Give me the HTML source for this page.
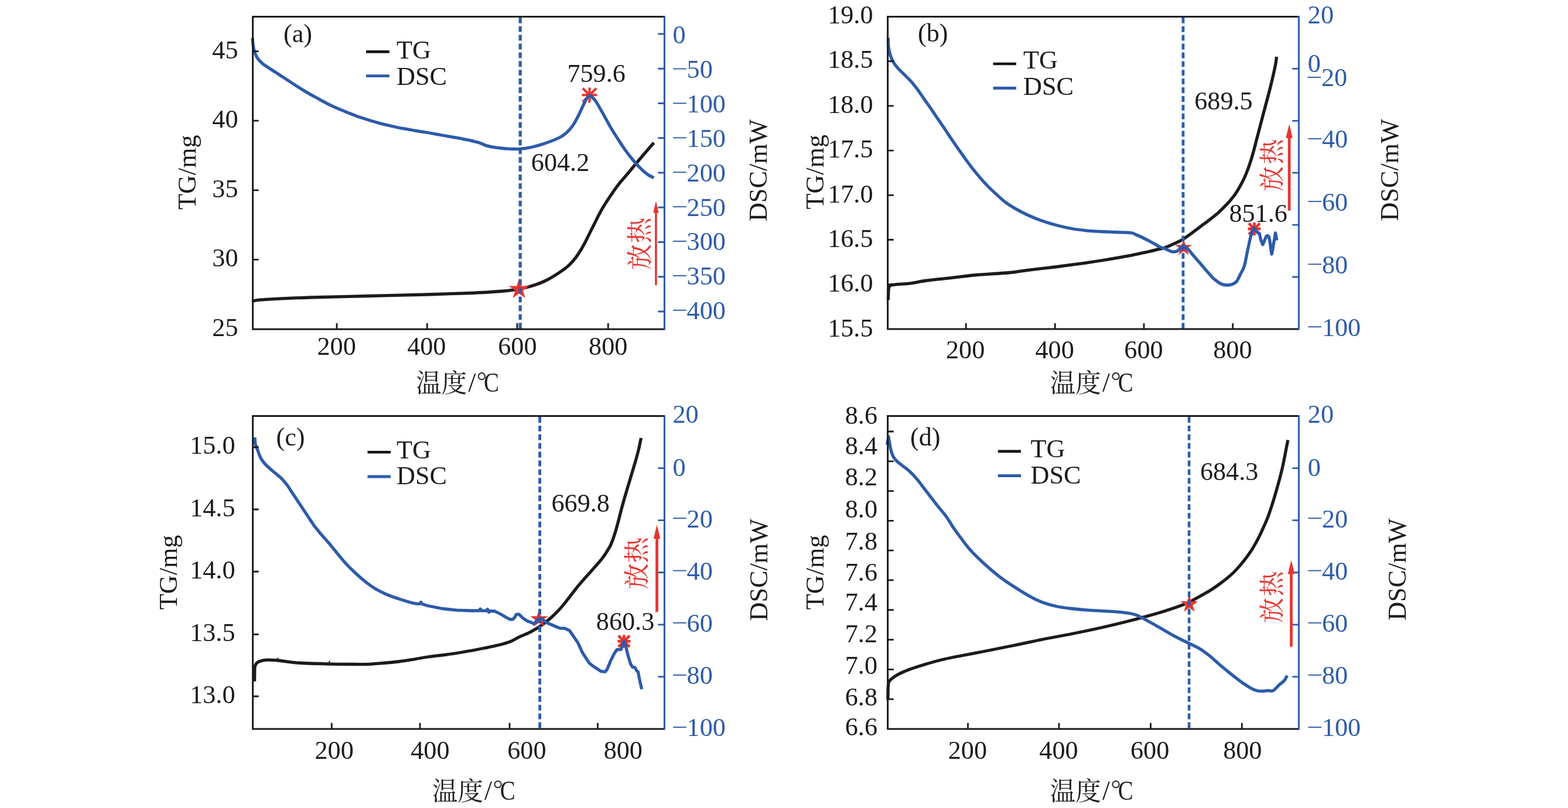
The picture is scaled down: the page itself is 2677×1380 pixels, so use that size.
<!DOCTYPE html>
<html lang="zh"><head><meta charset="utf-8"><title>TG-DSC curves</title>
<style>html,body{margin:0;padding:0;background:#fff}body{width:2677px;height:1380px;overflow:hidden}svg{display:block}text{font-family:"Liberation Serif","Noto Serif CJK SC",serif;white-space:pre}</style></head><body>
<svg xmlns="http://www.w3.org/2000/svg" width="2677" height="1380" viewBox="0 0 2677 1380" style="will-change:transform">
<rect width="2677" height="1380" fill="#fff"/>
<g id="panel-a">
<path d="M430.5,515.5C431.25,515.13 430.92,514 435,513.3C439.08,512.6 439.17,512.18 455,511.3C470.83,510.42 500.83,508.97 530,508C559.17,507.03 596.67,506.33 630,505.5C663.33,504.67 700.83,503.83 730,503C759.17,502.17 784.17,501.42 805,500.5C825.83,499.58 842.5,498.48 855,497.5C867.5,496.52 872.5,495.77 880,494.6C887.5,493.43 894.15,491.93 900,490.5C905.85,489.07 910.08,487.75 915.1,486C920.12,484.25 925.08,482.38 930.1,480C935.12,477.62 940.18,474.72 945.2,471.7C950.22,468.68 955.68,465.17 960.2,461.9C964.72,458.63 968.53,455.73 972.3,452.1C976.07,448.47 979.53,444.37 982.8,440.1C986.07,435.83 989.13,431.02 991.9,426.5C994.67,421.98 996.9,417.77 999.4,413C1001.9,408.23 1004.38,402.93 1006.9,397.9C1009.42,392.87 1011.98,387.82 1014.5,382.8C1017.02,377.78 1019.5,372.57 1022,367.8C1024.5,363.03 1027,358.47 1029.5,354.2C1032,349.93 1034.48,346.08 1037,342.2C1039.52,338.32 1042.08,334.55 1044.6,330.9C1047.12,327.25 1049.6,323.7 1052.1,320.3C1054.6,316.9 1056.83,313.88 1059.6,310.5C1062.37,307.12 1065.3,304 1068.7,300C1072.1,296 1075.12,292.33 1080,286.5C1084.88,280.67 1091.95,272.12 1098,265C1104.05,257.88 1113.25,247.33 1116.3,243.8" fill="none" stroke="#1c1a1b" stroke-width="5.3" stroke-linejoin="round" stroke-linecap="butt"/>
<path d="M886.2,476L890.29,488.58L903.51,488.58L892.81,496.35L896.9,508.92L886.2,501.15L875.5,508.92L879.59,496.35L868.89,488.58L882.11,488.58Z" fill="#e8332e"/>
<path d="M1006.5,149.4V175.2M993.6,162.3H1019.4M994.9,150.7L1018.1,173.9M994.9,173.9L1018.1,150.7" fill="none" stroke="#e8332e" stroke-width="4.1"/>
<path d="M431,65C431.25,67.4 431.8,75.2 432.5,79.4C433.2,83.6 433.97,86.82 435.2,90.2C436.43,93.58 437.77,96.65 439.9,99.7C442.03,102.75 444.83,105.78 448,108.5C451.17,111.22 454.83,113.28 458.9,116C462.97,118.72 467.88,121.87 472.4,124.8C476.92,127.73 481.48,130.67 486,133.6C490.52,136.53 494.98,139.47 499.5,142.4C504.02,145.33 508.57,148.37 513.1,151.2C517.63,154.03 522.18,156.8 526.7,159.4C531.22,162 535.68,164.32 540.2,166.8C544.72,169.28 549.28,171.92 553.8,174.3C558.32,176.68 562.78,178.97 567.3,181.1C571.82,183.23 576.38,185.18 580.9,187.1C585.42,189.02 589.88,190.78 594.4,192.6C598.92,194.42 603.48,196.35 608,198C612.52,199.65 616.98,201.03 621.5,202.5C626.02,203.97 630.58,205.45 635.1,206.8C639.62,208.15 644.08,209.42 648.6,210.6C653.12,211.78 657.68,212.83 662.2,213.9C666.72,214.97 671.18,216.03 675.7,217C680.22,217.97 684.77,218.87 689.3,219.7C693.83,220.53 698.38,221.22 702.9,222C707.42,222.78 711.88,223.65 716.4,224.4C720.92,225.15 725.23,225.7 730,226.5C734.77,227.3 740.83,228.45 745,229.2C749.17,229.95 749.17,229.98 755,231C760.83,232.02 771.67,233.75 780,235.3C788.33,236.85 798.75,238.92 805,240.3C811.25,241.68 813.33,242.22 817.5,243.6C821.67,244.98 825.83,247.3 830,248.6C834.17,249.9 838.33,250.67 842.5,251.4C846.67,252.13 850.83,252.55 855,253C859.17,253.45 863.33,253.85 867.5,254.1C871.67,254.35 876.67,254.47 880,254.5C883.33,254.53 883.33,254.72 887.5,254.3C891.67,253.88 897.92,253.55 905,252C912.08,250.45 921.67,247.83 930,245C938.33,242.17 948.75,238.12 955,235C961.25,231.88 963.75,229.63 967.5,226.3C971.25,222.97 974.17,219.8 977.5,215C980.83,210.2 984.17,204 987.5,197.5C990.83,191 994.92,181.17 997.5,176C1000.08,170.83 1001.5,168.6 1003,166.5C1004.5,164.4 1005.33,163.62 1006.5,163.4C1007.67,163.18 1008.17,163.52 1010,165.2C1011.83,166.88 1014.17,168.53 1017.5,173.5C1020.83,178.47 1025.83,187.67 1030,195C1034.17,202.33 1038.33,210.42 1042.5,217.5C1046.67,224.58 1050.83,231.03 1055,237.5C1059.17,243.97 1063.33,250.47 1067.5,256.3C1071.67,262.13 1075.83,267.5 1080,272.5C1084.17,277.5 1088.33,282.13 1092.5,286.3C1096.67,290.47 1101.03,294.58 1105,297.5C1108.97,300.42 1114.42,302.75 1116.3,303.8" fill="none" stroke="#2d5baa" stroke-width="5.3" stroke-linejoin="round" stroke-linecap="butt"/>
<path d="M888.2,29.8V562.2" stroke="#2d5baa" stroke-width="5.2" stroke-dasharray="9.9 5" fill="none"/>
<path d="M431.6,26.9V562.2H1134.4" stroke="#1c1a1b" stroke-width="3" fill="none" stroke-linejoin="miter"/>
<path d="M431.6,28.4H1134.4" stroke="#1c1a1b" stroke-width="3" fill="none"/>
<path d="M1134.4,26.9V563.7" stroke="#2d5baa" stroke-width="3" fill="none"/>
<path d="M431.6,87.6H441.7M431.6,206.2H441.7M431.6,324.8H441.7M431.6,443.4H441.7M575,562.2V552.1M729.25,562.2V552.1M883,562.2V552.1M1038.25,562.2V552.1" stroke="#1c1a1b" stroke-width="2.8" fill="none"/>
<path d="M1134.4,58H1123.3M1134.4,117.25H1123.3M1134.4,176.5H1123.3M1134.4,235.75H1123.3M1134.4,295H1123.3M1134.4,354.25H1123.3M1134.4,413.5H1123.3M1134.4,472.75H1123.3M1134.4,532H1123.3" stroke="#2d5baa" stroke-width="2.8" fill="none"/>
<text x="574.6" y="606" text-anchor="middle" fill="#1c1a1b" font-size="44.2">200</text>
<text x="728.3" y="606" text-anchor="middle" fill="#1c1a1b" font-size="44.2">400</text>
<text x="883.4" y="606" text-anchor="middle" fill="#1c1a1b" font-size="44.2">600</text>
<text x="1038.2" y="606" text-anchor="middle" fill="#1c1a1b" font-size="44.2">800</text>
<text x="406.5" y="99.6" text-anchor="end" fill="#1c1a1b" font-size="44.2">45</text>
<text x="406.5" y="218.4" text-anchor="end" fill="#1c1a1b" font-size="44.2">40</text>
<text x="406.5" y="337.2" text-anchor="end" fill="#1c1a1b" font-size="44.2">35</text>
<text x="406.5" y="455.4" text-anchor="end" fill="#1c1a1b" font-size="44.2">30</text>
<text x="406.5" y="573.8" text-anchor="end" fill="#1c1a1b" font-size="44.2">25</text>
<text x="1148.5" y="74" text-anchor="start" fill="#2d5baa" font-size="44.2">0</text>
<path d="M1149.1,117.5H1171.8" stroke="#2d5baa" stroke-width="1.9" fill="none"/>
<text x="1172.6" y="132.9" text-anchor="start" fill="#2d5baa" font-size="44.2">50</text>
<path d="M1149.1,176.4H1171.8" stroke="#2d5baa" stroke-width="1.9" fill="none"/>
<text x="1172.6" y="191.8" text-anchor="start" fill="#2d5baa" font-size="44.2">100</text>
<path d="M1149.1,235.3H1171.8" stroke="#2d5baa" stroke-width="1.9" fill="none"/>
<text x="1172.6" y="250.7" text-anchor="start" fill="#2d5baa" font-size="44.2">150</text>
<path d="M1149.1,294.2H1171.8" stroke="#2d5baa" stroke-width="1.9" fill="none"/>
<text x="1172.6" y="309.6" text-anchor="start" fill="#2d5baa" font-size="44.2">200</text>
<path d="M1149.1,353.1H1171.8" stroke="#2d5baa" stroke-width="1.9" fill="none"/>
<text x="1172.6" y="368.5" text-anchor="start" fill="#2d5baa" font-size="44.2">250</text>
<path d="M1149.1,412H1171.8" stroke="#2d5baa" stroke-width="1.9" fill="none"/>
<text x="1172.6" y="427.4" text-anchor="start" fill="#2d5baa" font-size="44.2">300</text>
<path d="M1149.1,470.9H1171.8" stroke="#2d5baa" stroke-width="1.9" fill="none"/>
<text x="1172.6" y="486.3" text-anchor="start" fill="#2d5baa" font-size="44.2">350</text>
<path d="M1149.1,529.8H1171.8" stroke="#2d5baa" stroke-width="1.9" fill="none"/>
<text x="1172.6" y="545.2" text-anchor="start" fill="#2d5baa" font-size="44.2">400</text>
<path d="M625,88.4H664.8" stroke="#141414" stroke-width="4.6" fill="none"/>
<path d="M625,129.6H664.8" stroke="#2d5baa" stroke-width="4.8" fill="none"/>
<text x="677" y="100" text-anchor="start" fill="#1c1a1b" font-size="44.2">TG</text>
<text x="677" y="145" text-anchor="start" fill="#1c1a1b" font-size="44.2">DSC</text>
<text x="484" y="71.5" text-anchor="start" fill="#1c1a1b" font-size="44.2">(a)</text>
<text x="968.4" y="140" text-anchor="start" fill="#1c1a1b" font-size="44.2">759.6</text>
<text x="906.8" y="292" text-anchor="start" fill="#1c1a1b" font-size="44.2">604.2</text>
<path d="M1119.9,487.2V362.4" stroke="#e8332e" stroke-width="3.5" fill="none"/>
<path d="M1119.9,343.4L1115.2,363.4L1124.6,363.4Z" fill="#e8332e"/>
<text transform="translate(1108.13,461.01) rotate(-90)" x="0 45.5" y="0" fill="#e8332e" font-size="44.4">放热</text>
<text transform="translate(333.8,294.2) rotate(-90)" text-anchor="middle" fill="#1c1a1b" font-size="44.2">TG/mg</text>
<text transform="translate(1309.4,290.9) rotate(-90)" text-anchor="middle" fill="#1c1a1b" font-size="44.2">DSC/mW</text>
<text x="710 753.5" y="670.03" fill="#1c1a1b" font-size="43.8">温度</text>
<text x="799.4" y="669" text-anchor="start" fill="#1c1a1b" font-size="46.5">/</text>
<circle cx="822.4" cy="642.7" r="5.65" fill="none" stroke="#1c1a1b" stroke-width="1.9"/>
<text transform="translate(826.1,668.85) scale(0.875,1.035)" x="0" y="0" fill="#1c1a1b" font-size="44.5">C</text>
</g>
<g id="panel-b">
<path d="M1516.3,512.5L1516.8,497L1517.5,491C1518,490.38 1518.42,488.17 1520.5,487.3C1522.58,486.43 1524.25,486.38 1530,485.8C1535.75,485.22 1546.67,484.85 1555,483.8C1563.33,482.75 1567.5,481.17 1580,479.5C1592.5,477.83 1615.42,475.47 1630,473.8C1644.58,472.13 1655,470.63 1667.5,469.5C1680,468.37 1694.58,467.75 1705,467C1715.42,466.25 1721.67,465.95 1730,465C1738.33,464.05 1742.5,462.88 1755,461.3C1767.5,459.72 1788.33,457.58 1805,455.5C1821.67,453.42 1842.5,450.55 1855,448.8C1867.5,447.05 1867.5,447.08 1880,445C1892.5,442.92 1916.67,438.8 1930,436.3C1943.33,433.8 1952.5,431.65 1960,430C1967.5,428.35 1970,427.67 1975,426.4C1980,425.13 1985,424.13 1990,422.4C1995,420.67 2000,418.33 2005,416C2010,413.67 2015,411.43 2020,408.4C2025,405.37 2030,401.43 2035,397.8C2040,394.17 2045,390.35 2050,386.6C2055,382.85 2060,379.2 2065,375.3C2070,371.4 2075,367.68 2080,363.2C2085,358.72 2090.92,352.72 2095,348.4C2099.08,344.08 2101.9,340.53 2104.5,337.3C2107.1,334.07 2108.33,332.52 2110.6,329C2112.87,325.48 2115.6,320.83 2118.1,316.2C2120.6,311.57 2123.1,306.97 2125.6,301.2C2128.1,295.43 2130.83,288.13 2133.1,281.6C2135.37,275.07 2137.12,269.35 2139.2,262C2141.28,254.65 2142.47,249.5 2145.6,237.5C2148.73,225.5 2154.17,204.58 2158,190C2161.83,175.42 2165.4,162.92 2168.6,150C2171.8,137.08 2175.38,121.33 2177.2,112.5C2179.02,103.67 2179.12,99.58 2179.5,97" fill="none" stroke="#1c1a1b" stroke-width="5.3" stroke-linejoin="round" stroke-linecap="butt"/>
<path d="M2020.7,408L2024.11,418.5L2035.16,418.5L2026.22,424.99L2029.63,435.5L2020.7,429.01L2011.77,435.5L2015.18,424.99L2006.24,418.5L2017.29,418.5Z" fill="#e8332e"/>
<path d="M2141.4,379.9V401.9M2130.4,390.9H2152.4M2131.9,381.4L2150.9,400.4M2131.9,400.4L2150.9,381.4" fill="none" stroke="#e8332e" stroke-width="4.6"/>
<path d="M1516.4,64.5C1516.5,67.1 1516.38,75.08 1517,80.1C1517.62,85.12 1518.68,90.18 1520.1,94.6C1521.52,99.02 1523.2,102.78 1525.5,106.6C1527.8,110.42 1530.68,113.88 1533.9,117.5C1537.12,121.12 1541.18,124.68 1544.8,128.3C1548.42,131.92 1552.2,135.38 1555.6,139.2C1559,143.02 1562.18,147.18 1565.2,151.2C1568.22,155.22 1570.88,159.28 1573.7,163.3C1576.52,167.32 1579.3,171.3 1582.1,175.3C1584.9,179.3 1587.72,183.25 1590.5,187.3C1593.28,191.35 1595.93,195.4 1598.8,199.6C1601.67,203.8 1604.92,208.42 1607.7,212.5C1610.48,216.58 1612.88,220.17 1615.5,224.1C1618.12,228.03 1620.68,232.08 1623.4,236.1C1626.12,240.12 1629,244.18 1631.8,248.2C1634.6,252.22 1637.38,256.18 1640.2,260.2C1643.02,264.22 1645.78,268.28 1648.7,272.3C1651.62,276.32 1654.6,280.28 1657.7,284.3C1660.8,288.32 1663.98,292.38 1667.3,296.4C1670.62,300.42 1673.98,304.38 1677.6,308.4C1681.22,312.42 1684.98,316.48 1689,320.5C1693.02,324.52 1697.28,328.48 1701.7,332.5C1706.12,336.52 1710.48,340.78 1715.5,344.6C1720.52,348.42 1725.22,351.58 1731.8,355.4C1738.38,359.22 1746.97,363.82 1755,367.5C1763.03,371.18 1771.67,374.58 1780,377.5C1788.33,380.42 1796.67,382.83 1805,385C1813.33,387.17 1821.67,389.03 1830,390.5C1838.33,391.97 1846.67,392.97 1855,393.8C1863.33,394.63 1871.67,395.05 1880,395.5C1888.33,395.95 1897.5,396.22 1905,396.5C1912.5,396.78 1920.33,396.95 1925,397.2C1929.67,397.45 1930.5,397.37 1933,398C1935.5,398.63 1937.17,399.75 1940,401C1942.83,402.25 1945.42,403.25 1950,405.5C1954.58,407.75 1962.5,411.82 1967.5,414.5C1972.5,417.18 1976.42,419.88 1980,421.6C1983.58,423.32 1985.98,423.58 1989,424.8C1992.02,426.02 1995.68,428.03 1998.1,428.9C2000.52,429.77 2001.7,429.93 2003.5,430C2005.3,430.07 2007.25,430.02 2008.9,429.3C2010.55,428.58 2012.05,426.82 2013.4,425.7C2014.75,424.58 2015.87,423.35 2017,422.6C2018.13,421.85 2018.98,421.2 2020.2,421.2C2021.42,421.2 2022.87,421.77 2024.3,422.6C2025.73,423.43 2027.15,424.55 2028.8,426.2C2030.45,427.85 2032.17,430.1 2034.2,432.5C2036.23,434.9 2038.73,437.97 2041,440.6C2043.27,443.23 2044.63,444.65 2047.8,448.3C2050.97,451.95 2055.88,457.83 2060,462.5C2064.12,467.17 2068.33,472.55 2072.5,476.3C2076.67,480.05 2081.25,483.22 2085,485C2088.75,486.78 2091.67,487 2095,487C2098.33,487 2102.28,486.08 2105,485C2107.72,483.92 2109.32,483 2111.3,480.5C2113.28,478 2114.73,474.35 2116.9,470C2119.07,465.65 2122.2,461.05 2124.3,454.4C2126.4,447.75 2127.75,438.18 2129.5,430.1C2131.25,422.02 2133.22,412.22 2134.8,405.9C2136.38,399.58 2137.95,394.92 2139,392.2C2140.05,389.48 2140.75,390.03 2141.1,389.6L2141.1,389.6L2144.3,394.3L2147.5,397.8L2150,398.3L2152.7,410L2155.9,417.8L2158,413L2160.1,407.5L2162.3,403L2164.5,402.5L2166.5,404.5L2168,412L2169.6,425L2171.2,434L2172.5,428L2173.8,419.5L2175.9,408L2177.5,397.8L2178.6,404L2179.8,410.5" fill="none" stroke="#2d5baa" stroke-width="5.3" stroke-linejoin="round" stroke-linecap="butt"/>
<path d="M2019.9,29.9V562" stroke="#2d5baa" stroke-width="4.8" stroke-dasharray="9.9 5" fill="none"/>
<path d="M1515.6,27V562H2217.4" stroke="#1c1a1b" stroke-width="3" fill="none" stroke-linejoin="miter"/>
<path d="M1515.6,28.5H2217.4" stroke="#1c1a1b" stroke-width="3" fill="none"/>
<path d="M2217.4,27V563.5" stroke="#2d5baa" stroke-width="3" fill="none"/>
<path d="M1515.6,104.7H1525.7M1515.6,180.9H1525.7M1515.6,257.1H1525.7M1515.6,333.3H1525.7M1515.6,409.5H1525.7M1515.6,485.7H1525.7M1649.25,562V551.9M1801.25,562V551.9M1953,562V551.9M2104.7,562V551.9" stroke="#1c1a1b" stroke-width="2.8" fill="none"/>
<path d="M2217.4,117.4H2206.3M2217.4,206.3H2206.3M2217.4,295.2H2206.3M2217.4,384.1H2206.3M2217.4,473H2206.3" stroke="#2d5baa" stroke-width="2.8" fill="none"/>
<text x="1648.1" y="612.3" text-anchor="middle" fill="#1c1a1b" font-size="44.2">200</text>
<text x="1800.6" y="612.3" text-anchor="middle" fill="#1c1a1b" font-size="44.2">400</text>
<text x="1952.5" y="612.3" text-anchor="middle" fill="#1c1a1b" font-size="44.2">600</text>
<text x="2104.4" y="612.3" text-anchor="middle" fill="#1c1a1b" font-size="44.2">800</text>
<text x="1490.5" y="40" text-anchor="end" fill="#1c1a1b" font-size="44.2">19.0</text>
<text x="1490.5" y="116.4" text-anchor="end" fill="#1c1a1b" font-size="44.2">18.5</text>
<text x="1490.5" y="192.8" text-anchor="end" fill="#1c1a1b" font-size="44.2">18.0</text>
<text x="1490.5" y="269.2" text-anchor="end" fill="#1c1a1b" font-size="44.2">17.5</text>
<text x="1490.5" y="345.6" text-anchor="end" fill="#1c1a1b" font-size="44.2">17.0</text>
<text x="1490.5" y="422" text-anchor="end" fill="#1c1a1b" font-size="44.2">16.5</text>
<text x="1490.5" y="498.4" text-anchor="end" fill="#1c1a1b" font-size="44.2">16.0</text>
<text x="1490.5" y="574.8" text-anchor="end" fill="#1c1a1b" font-size="44.2">15.5</text>
<text x="2232.8" y="40" text-anchor="start" fill="#2d5baa" font-size="44.2">20</text>
<text x="2232.8" y="122.6" text-anchor="start" fill="#2d5baa" font-size="44.2">0</text>
<path d="M2232.4,132H2255.1" stroke="#2d5baa" stroke-width="1.9" fill="none"/>
<text x="2255.9" y="147.4" text-anchor="start" fill="#2d5baa" font-size="44.2">20</text>
<path d="M2233.4,237H2256.1" stroke="#2d5baa" stroke-width="1.9" fill="none"/>
<text x="2256.9" y="252.4" text-anchor="start" fill="#2d5baa" font-size="44.2">40</text>
<path d="M2233.4,344.1H2256.1" stroke="#2d5baa" stroke-width="1.9" fill="none"/>
<text x="2256.9" y="359.5" text-anchor="start" fill="#2d5baa" font-size="44.2">60</text>
<path d="M2233.4,451.3H2256.1" stroke="#2d5baa" stroke-width="1.9" fill="none"/>
<text x="2256.9" y="466.7" text-anchor="start" fill="#2d5baa" font-size="44.2">80</text>
<path d="M2233.4,558.2H2256.1" stroke="#2d5baa" stroke-width="1.9" fill="none"/>
<text x="2256.9" y="573.6" text-anchor="start" fill="#2d5baa" font-size="44.2">100</text>
<path d="M1695.5,109H1735" stroke="#141414" stroke-width="4.6" fill="none"/>
<path d="M1695.5,150.5H1735" stroke="#2d5baa" stroke-width="4.8" fill="none"/>
<text x="1747" y="117.3" text-anchor="start" fill="#1c1a1b" font-size="44.2">TG</text>
<text x="1747" y="162" text-anchor="start" fill="#1c1a1b" font-size="44.2">DSC</text>
<text x="1567" y="71" text-anchor="start" fill="#1c1a1b" font-size="44.2">(b)</text>
<text x="2039.2" y="186.7" text-anchor="start" fill="#1c1a1b" font-size="44.2">689.5</text>
<text x="2098.4" y="378.6" text-anchor="start" fill="#1c1a1b" font-size="44.2">851.6</text>
<path d="M2201.1,359.8V234.8" stroke="#e8332e" stroke-width="4.7" fill="none"/>
<path d="M2201.1,211.8L2195.35,235.8L2206.85,235.8Z" fill="#e8332e"/>
<text transform="translate(2187.08,327.28) rotate(-90)" x="0 46.43" y="0" fill="#e8332e" font-size="43.5">放热</text>
<text transform="translate(1406,293.7) rotate(-90)" text-anchor="middle" fill="#1c1a1b" font-size="44.2">TG/mg</text>
<text transform="translate(2386.6,290.3) rotate(-90)" text-anchor="middle" fill="#1c1a1b" font-size="44.2">DSC/mW</text>
<text x="1792.6 1836.1" y="670.03" fill="#1c1a1b" font-size="43.8">温度</text>
<text x="1882" y="669" text-anchor="start" fill="#1c1a1b" font-size="46.5">/</text>
<circle cx="1905" cy="642.7" r="5.65" fill="none" stroke="#1c1a1b" stroke-width="1.9"/>
<text transform="translate(1908.7,668.85) scale(0.875,1.035)" x="0" y="0" fill="#1c1a1b" font-size="44.5">C</text>
</g>
<g id="panel-c">
<path d="M434.5,1163.8L434.8,1142L435.5,1137C435.92,1136.33 436.83,1134.2 438,1133C439.17,1131.8 439.67,1130.77 442.5,1129.8C445.33,1128.83 449.58,1127.5 455,1127.2C460.42,1126.9 466.67,1127.23 475,1128C483.33,1128.77 491.67,1130.83 505,1131.8C518.33,1132.77 538.33,1133.35 555,1133.8C571.67,1134.25 592.5,1134.42 605,1134.5C617.5,1134.58 621.67,1134.63 630,1134.3C638.33,1133.97 646.67,1133.22 655,1132.5C663.33,1131.78 671.67,1131.03 680,1130C688.33,1128.97 696.67,1127.63 705,1126.3C713.33,1124.97 717.5,1123.8 730,1122C742.5,1120.2 763.33,1118.12 780,1115.5C796.67,1112.88 817.5,1108.75 830,1106.3C842.5,1103.85 848,1102.6 855,1100.8C862,1099 866.75,1097.67 872,1095.5C877.25,1093.33 881.47,1090.18 886.5,1087.8C891.53,1085.42 897.58,1083.4 902.2,1081.2C906.82,1079 910.38,1076.92 914.2,1074.6C918.02,1072.28 921.68,1069.72 925.1,1067.3C928.52,1064.88 931.5,1062.7 934.7,1060.1C937.9,1057.5 941.08,1054.72 944.3,1051.7C947.52,1048.68 950.98,1045.22 954,1042C957.02,1038.78 959.6,1035.8 962.4,1032.4C965.2,1029 967.98,1025.22 970.8,1021.6C973.62,1017.98 976.48,1014.32 979.3,1010.7C982.12,1007.08 984.9,1003.32 987.7,999.9C990.5,996.48 993.08,993.62 996.1,990.2C999.12,986.78 1002.58,983 1005.8,979.4C1009.02,975.8 1012.38,972.02 1015.4,968.6C1018.42,965.18 1021.3,962.03 1023.9,958.9C1026.5,955.77 1028.82,952.87 1031,949.8C1033.18,946.73 1035.17,943.47 1037,940.5C1038.83,937.53 1040.38,935.33 1042,932C1043.62,928.67 1045.27,924.43 1046.7,920.5C1048.13,916.57 1049.38,912.42 1050.6,908.4C1051.82,904.38 1052.9,900.42 1054,896.4C1055.1,892.38 1056.17,888.32 1057.2,884.3C1058.23,880.28 1059.15,876.32 1060.2,872.3C1061.25,868.28 1062.38,864.22 1063.5,860.2C1064.62,856.18 1065.73,852.22 1066.9,848.2C1068.07,844.18 1069.3,840.12 1070.5,836.1C1071.7,832.08 1072.9,828.12 1074.1,824.1C1075.3,820.08 1076.5,816.02 1077.7,812C1078.9,807.98 1079.92,804.67 1081.3,800C1082.68,795.33 1084.47,789.5 1086,784C1087.53,778.5 1089.08,773 1090.5,767C1091.92,761 1093.83,751.17 1094.5,748" fill="none" stroke="#1c1a1b" stroke-width="5.3" stroke-linejoin="round" stroke-linecap="butt"/>
<path d="M920.2,1041.5L923.77,1052.49L935.32,1052.49L925.98,1059.28L929.55,1070.26L920.2,1063.47L910.85,1070.26L914.42,1059.28L905.08,1052.49L916.63,1052.49Z" fill="#e8332e"/>
<path d="M1065.4,1084.2V1106.2M1054.4,1095.2H1076.4M1055.8,1085.6L1075,1104.8M1055.8,1104.8L1075,1085.6" fill="none" stroke="#e8332e" stroke-width="4.6"/>
<path d="M472.5,1129.5L474.5,1123.5" fill="none" stroke="#1c1a1b" stroke-width="2.2"/>
<path d="M561,1133.5L563,1128.5" fill="none" stroke="#1c1a1b" stroke-width="2"/>
<path d="M435.1,747.2L435.6,757L435.6,757C435.83,757.75 436.25,759.47 437,761.5C437.75,763.53 438.83,765.92 440.1,769.2C441.37,772.48 442.85,777.7 444.6,781.2C446.35,784.7 448.1,787.18 450.6,790.2C453.1,793.22 456.33,796.28 459.6,799.3C462.87,802.32 466.68,805.3 470.2,808.3C473.72,811.3 477.43,814.03 480.7,817.3C483.97,820.57 486.78,823.88 489.8,827.9C492.82,831.92 495.8,836.88 498.8,841.4C501.8,845.92 504.78,850.47 507.8,855C510.82,859.53 513.88,864.08 516.9,868.6C519.92,873.12 522.9,877.58 525.9,882.1C528.9,886.62 531.63,891.18 534.9,895.7C538.17,900.22 541.98,904.93 545.5,909.2C549.02,913.47 552.98,917.83 556,921.3C559.02,924.77 560.85,926.72 563.6,930C566.35,933.28 568.1,935.67 572.5,941C576.9,946.33 584.58,956 590,962C595.42,968 599.58,971.92 605,977C610.42,982.08 616.67,987.83 622.5,992.5C628.33,997.17 633.75,1001.2 640,1005C646.25,1008.8 653.33,1012.38 660,1015.3C666.67,1018.22 672.5,1020.05 680,1022.5C687.5,1024.95 699,1028.52 705,1030C711,1031.48 714.17,1031.17 716,1031.4L716,1031.4L718.5,1028.5L720.5,1031.5L730,1034.5L755,1039.5L780,1042.2L805,1043L818,1043L820,1040L822,1043.2L830,1043.2L832.5,1040.5L834.5,1045.5L837,1043.5L845,1044L855,1049L865,1055L871,1058L876,1057.5L879,1054L881.3,1049.5L886.1,1049.1L892.2,1055.2L900.3,1060.7L907.1,1063.1L911.8,1065.4L916.6,1059.3L920.7,1056.3L926.1,1057.3L932.9,1063.4L941,1066.8L950.5,1070.8L955.9,1072.9L964,1073.1L972.2,1076.9L978.9,1086.4L987.1,1098.6L993.8,1113.5L1000.6,1124.4L1006,1132.5L1012.8,1137.9L1020.9,1143.3L1026.4,1146.7L1033.1,1147.4L1036.5,1143.3L1042.6,1128.4L1049.4,1114.9L1053.5,1109.4L1060.2,1109.4L1062.3,1104L1065.4,1095.2L1068.4,1104L1072.4,1120.3L1076.5,1133.8L1079.9,1139.3L1084,1139.9L1087.3,1146L1089.4,1147.4L1091.4,1158.2L1094.1,1170.4L1095.7,1177.2" fill="none" stroke="#2d5baa" stroke-width="5.3" stroke-linejoin="round" stroke-linecap="butt"/>
<path d="M921.6,712V1244.9" stroke="#2d5baa" stroke-width="4.8" stroke-dasharray="9.9 5" fill="none"/>
<path d="M431.6,709.1V1244.9H1134.4" stroke="#1c1a1b" stroke-width="3" fill="none" stroke-linejoin="miter"/>
<path d="M431.6,710.6H1134.4" stroke="#1c1a1b" stroke-width="3" fill="none"/>
<path d="M1134.4,709.1V1246.4" stroke="#2d5baa" stroke-width="3" fill="none"/>
<path d="M431.6,763.75H441.7M431.6,870H441.7M431.6,976.25H441.7M431.6,1083.5H441.7M431.6,1189.25H441.7M566.25,1244.9V1234.8M717,1244.9V1234.8M870,1244.9V1234.8M1020.5,1244.9V1234.8" stroke="#1c1a1b" stroke-width="2.8" fill="none"/>
<path d="M1134.4,799.65H1123.3M1134.4,888.7H1123.3M1134.4,977.75H1123.3M1134.4,1066.8H1123.3M1134.4,1155.85H1123.3" stroke="#2d5baa" stroke-width="2.8" fill="none"/>
<text x="570.6" y="1296" text-anchor="middle" fill="#1c1a1b" font-size="44.2">200</text>
<text x="734.4" y="1296" text-anchor="middle" fill="#1c1a1b" font-size="44.2">400</text>
<text x="899.4" y="1296" text-anchor="middle" fill="#1c1a1b" font-size="44.2">600</text>
<text x="1063.8" y="1296" text-anchor="middle" fill="#1c1a1b" font-size="44.2">800</text>
<text x="401.5" y="775" text-anchor="end" fill="#1c1a1b" font-size="44.2">15.0</text>
<text x="401.5" y="881.8" text-anchor="end" fill="#1c1a1b" font-size="44.2">14.5</text>
<text x="401.5" y="988" text-anchor="end" fill="#1c1a1b" font-size="44.2">14.0</text>
<text x="401.5" y="1095" text-anchor="end" fill="#1c1a1b" font-size="44.2">13.5</text>
<text x="401.5" y="1201" text-anchor="end" fill="#1c1a1b" font-size="44.2">13.0</text>
<text x="1148.5" y="722.3" text-anchor="start" fill="#2d5baa" font-size="44.2">20</text>
<text x="1148.5" y="812.5" text-anchor="start" fill="#2d5baa" font-size="44.2">0</text>
<path d="M1149.1,885.1H1171.8" stroke="#2d5baa" stroke-width="1.9" fill="none"/>
<text x="1172.6" y="900.5" text-anchor="start" fill="#2d5baa" font-size="44.2">20</text>
<path d="M1149.1,974.6H1171.8" stroke="#2d5baa" stroke-width="1.9" fill="none"/>
<text x="1172.6" y="990" text-anchor="start" fill="#2d5baa" font-size="44.2">40</text>
<path d="M1149.1,1063.8H1171.8" stroke="#2d5baa" stroke-width="1.9" fill="none"/>
<text x="1172.6" y="1079.2" text-anchor="start" fill="#2d5baa" font-size="44.2">60</text>
<path d="M1149.1,1152.9H1171.8" stroke="#2d5baa" stroke-width="1.9" fill="none"/>
<text x="1172.6" y="1168.3" text-anchor="start" fill="#2d5baa" font-size="44.2">80</text>
<path d="M1149.1,1242H1171.8" stroke="#2d5baa" stroke-width="1.9" fill="none"/>
<text x="1172.6" y="1257.4" text-anchor="start" fill="#2d5baa" font-size="44.2">100</text>
<path d="M627.5,772.3H667" stroke="#141414" stroke-width="4.6" fill="none"/>
<path d="M627.5,814H667" stroke="#2d5baa" stroke-width="4.8" fill="none"/>
<text x="677" y="782.7" text-anchor="start" fill="#1c1a1b" font-size="44.2">TG</text>
<text x="677" y="827.3" text-anchor="start" fill="#1c1a1b" font-size="44.2">DSC</text>
<text x="471.5" y="760.5" text-anchor="start" fill="#1c1a1b" font-size="44.2">(c)</text>
<text x="941.5" y="873.6" text-anchor="start" fill="#1c1a1b" font-size="44.2">669.8</text>
<text x="1017.8" y="1076.2" text-anchor="start" fill="#1c1a1b" font-size="44.2">860.3</text>
<path d="M1121.5,1045V919.2" stroke="#e8332e" stroke-width="4.7" fill="none"/>
<path d="M1121.5,896.2L1115.75,920.2L1127.25,920.2Z" fill="#e8332e"/>
<text transform="translate(1103.22,1006.41) rotate(-90)" x="0 44.6" y="0" fill="#e8332e" font-size="44.5">放热</text>
<text transform="translate(302.4,977.4) rotate(-90)" text-anchor="middle" fill="#1c1a1b" font-size="44.2">TG/mg</text>
<text transform="translate(1309.8,973.3) rotate(-90)" text-anchor="middle" fill="#1c1a1b" font-size="44.2">DSC/mW</text>
<text x="737.7 781.2" y="1366.93" fill="#1c1a1b" font-size="43.8">温度</text>
<text x="827.1" y="1365.9" text-anchor="start" fill="#1c1a1b" font-size="46.5">/</text>
<circle cx="850.1" cy="1339.6" r="5.65" fill="none" stroke="#1c1a1b" stroke-width="1.9"/>
<text transform="translate(853.8,1365.75) scale(0.875,1.035)" x="0" y="0" fill="#1c1a1b" font-size="44.5">C</text>
</g>
<g id="panel-d">
<path d="M1515.8,1195L1516.2,1174L1516.8,1167C1517.17,1166.22 1516.8,1164.5 1519,1162.3C1521.2,1160.1 1526.08,1156.27 1530,1153.8C1533.92,1151.33 1538.33,1149.38 1542.5,1147.5C1546.67,1145.62 1548.75,1144.67 1555,1142.5C1561.25,1140.33 1571.67,1137 1580,1134.5C1588.33,1132 1596.67,1129.58 1605,1127.5C1613.33,1125.42 1617.5,1124.5 1630,1122C1642.5,1119.5 1663.33,1115.75 1680,1112.5C1696.67,1109.25 1713.33,1105.92 1730,1102.5C1746.67,1099.08 1763.33,1095.33 1780,1092C1796.67,1088.67 1813.33,1085.83 1830,1082.5C1846.67,1079.17 1863.33,1075.75 1880,1072C1896.67,1068.25 1913.33,1064.28 1930,1060C1946.67,1055.72 1966.67,1050.22 1980,1046.3C1993.33,1042.38 2001.63,1039.45 2010,1036.5C2018.37,1033.55 2025.92,1030.42 2030.2,1028.6C2034.48,1026.78 2032.98,1027.1 2035.7,1025.6C2038.42,1024.1 2042.68,1021.73 2046.5,1019.6C2050.32,1017.47 2054.58,1015.15 2058.6,1012.8C2062.62,1010.45 2066.58,1008.13 2070.6,1005.5C2074.62,1002.87 2078.58,1000.03 2082.7,997C2086.82,993.97 2091.2,990.72 2095.3,987.3C2099.4,983.88 2103.48,980.32 2107.3,976.5C2111.12,972.68 2114.78,968.42 2118.2,964.4C2121.62,960.38 2124.78,956.42 2127.8,952.4C2130.82,948.38 2133.68,944.33 2136.3,940.3C2138.92,936.27 2141.23,932.23 2143.5,928.2C2145.77,924.17 2147.9,920.12 2149.9,916.1C2151.9,912.08 2153.65,908.12 2155.5,904.1C2157.35,900.08 2159.28,896.02 2161,892C2162.72,887.98 2163.92,885.25 2165.8,880C2167.68,874.75 2170.02,867.77 2172.3,860.5C2174.58,853.23 2177.3,844.03 2179.5,836.4C2181.7,828.77 2183.68,821.73 2185.5,814.7C2187.32,807.67 2188.78,801.63 2190.4,794.2C2192.02,786.77 2193.8,777.23 2195.2,770.1C2196.6,762.97 2198.2,754.52 2198.8,751.4" fill="none" stroke="#1c1a1b" stroke-width="5.3" stroke-linejoin="round" stroke-linecap="butt"/>
<path d="M2030.4,1016L2033.97,1026.99L2045.52,1026.99L2036.18,1033.78L2039.75,1044.76L2030.4,1037.97L2021.05,1044.76L2024.62,1033.78L2015.28,1026.99L2026.83,1026.99Z" fill="#e8332e"/>
<path d="M1514.6,759.5L1517,745.8L1517,745.8C1517.32,747.78 1518.18,753.7 1518.9,757.7C1519.62,761.7 1520.2,765.98 1521.3,769.8C1522.4,773.62 1523.6,777.4 1525.5,780.6C1527.4,783.8 1530.1,786.48 1532.7,789C1535.3,791.52 1537.68,792.98 1541.1,795.7C1544.52,798.42 1549.18,801.58 1553.2,805.3C1557.22,809.02 1561.18,813.28 1565.2,818C1569.22,822.72 1573.28,828.38 1577.3,833.6C1581.32,838.82 1585.28,844.08 1589.3,849.3C1593.32,854.52 1597.38,859.88 1601.4,864.9C1605.42,869.92 1610.18,875.22 1613.4,879.4C1616.62,883.58 1617.93,885.82 1620.7,890C1623.47,894.18 1624.28,896.58 1630,904.5C1635.72,912.42 1646.67,927.83 1655,937.5C1663.33,947.17 1671.67,954.78 1680,962.5C1688.33,970.22 1696.67,977.33 1705,983.8C1713.33,990.27 1720.67,995.25 1730,1001.3C1739.33,1007.35 1752.33,1015.38 1761,1020.1C1769.67,1024.82 1775,1027.03 1782,1029.6C1789,1032.17 1795,1033.85 1803,1035.5C1811,1037.15 1821.33,1038.45 1830,1039.5C1838.67,1040.55 1846.67,1041.17 1855,1041.8C1863.33,1042.43 1871.67,1042.8 1880,1043.3C1888.33,1043.8 1897.5,1044.18 1905,1044.8C1912.5,1045.42 1919.17,1046.05 1925,1047C1930.83,1047.95 1935,1048.67 1940,1050.5C1945,1052.33 1948.33,1054.42 1955,1058C1961.67,1061.58 1971.67,1067.28 1980,1072C1988.33,1076.72 1996.67,1081.83 2005,1086.3C2013.33,1090.77 2022.92,1095.27 2030,1098.8C2037.08,1102.33 2041.67,1103.97 2047.5,1107.5C2053.33,1111.03 2058.75,1115 2065,1120C2071.25,1125 2078.33,1131.87 2085,1137.5C2091.67,1143.13 2098.33,1148.58 2105,1153.8C2111.67,1159.02 2119.58,1165.05 2125,1168.8C2130.42,1172.55 2133.75,1174.43 2137.5,1176.3C2141.25,1178.17 2144.17,1179.33 2147.5,1180C2150.83,1180.67 2154.58,1180.38 2157.5,1180.3C2160.42,1180.22 2162.5,1179.55 2165,1179.5C2167.5,1179.45 2170.42,1180.53 2172.5,1180C2174.58,1179.47 2175.42,1178.17 2177.5,1176.3C2179.58,1174.43 2182.5,1171.1 2185,1168.8C2187.5,1166.5 2190.42,1165 2192.5,1162.5C2194.58,1160 2196.67,1155.25 2197.5,1153.8" fill="none" stroke="#2d5baa" stroke-width="5.3" stroke-linejoin="round" stroke-linecap="butt"/>
<path d="M2030.1,712V1244.9" stroke="#2d5baa" stroke-width="4.5" stroke-dasharray="9.9 5" fill="none"/>
<path d="M1515.6,709.1V1244.9H2217.4" stroke="#1c1a1b" stroke-width="3" fill="none" stroke-linejoin="miter"/>
<path d="M1515.6,710.6H2217.4" stroke="#1c1a1b" stroke-width="3" fill="none"/>
<path d="M2217.4,709.1V1246.4" stroke="#2d5baa" stroke-width="3" fill="none"/>
<path d="M1515.6,737H1525.7M1515.6,787.79H1525.7M1515.6,838.58H1525.7M1515.6,889.37H1525.7M1515.6,940.16H1525.7M1515.6,990.95H1525.7M1515.6,1041.74H1525.7M1515.6,1092.53H1525.7M1515.6,1143.32H1525.7M1515.6,1194.11H1525.7M1652.5,1244.9V1234.8M1808,1244.9V1234.8M1964.5,1244.9V1234.8M2120.3,1244.9V1234.8" stroke="#1c1a1b" stroke-width="2.8" fill="none"/>
<path d="M2217.4,799.65H2206.3M2217.4,888.7H2206.3M2217.4,977.75H2206.3M2217.4,1066.8H2206.3M2217.4,1155.85H2206.3" stroke="#2d5baa" stroke-width="2.8" fill="none"/>
<text x="1651.9" y="1296" text-anchor="middle" fill="#1c1a1b" font-size="44.2">200</text>
<text x="1807.5" y="1296" text-anchor="middle" fill="#1c1a1b" font-size="44.2">400</text>
<text x="1963.1" y="1296" text-anchor="middle" fill="#1c1a1b" font-size="44.2">600</text>
<text x="2121.3" y="1296" text-anchor="middle" fill="#1c1a1b" font-size="44.2">800</text>
<text x="1498" y="723.6" text-anchor="end" fill="#1c1a1b" font-size="44.2">8.6</text>
<text x="1498" y="776.1" text-anchor="end" fill="#1c1a1b" font-size="44.2">8.4</text>
<text x="1498" y="828.6" text-anchor="end" fill="#1c1a1b" font-size="44.2">8.2</text>
<text x="1498" y="883.6" text-anchor="end" fill="#1c1a1b" font-size="44.2">8.0</text>
<text x="1498" y="938.6" text-anchor="end" fill="#1c1a1b" font-size="44.2">7.8</text>
<text x="1498" y="992.4" text-anchor="end" fill="#1c1a1b" font-size="44.2">7.6</text>
<text x="1498" y="1042.9" text-anchor="end" fill="#1c1a1b" font-size="44.2">7.4</text>
<text x="1498" y="1097.4" text-anchor="end" fill="#1c1a1b" font-size="44.2">7.2</text>
<text x="1498" y="1151.1" text-anchor="end" fill="#1c1a1b" font-size="44.2">7.0</text>
<text x="1498" y="1204.9" text-anchor="end" fill="#1c1a1b" font-size="44.2">6.8</text>
<text x="1498" y="1256.1" text-anchor="end" fill="#1c1a1b" font-size="44.2">6.6</text>
<text x="2232.8" y="722.3" text-anchor="start" fill="#2d5baa" font-size="44.2">20</text>
<text x="2232.8" y="812.5" text-anchor="start" fill="#2d5baa" font-size="44.2">0</text>
<path d="M2233.4,885.1H2256.1" stroke="#2d5baa" stroke-width="1.9" fill="none"/>
<text x="2256.9" y="900.5" text-anchor="start" fill="#2d5baa" font-size="44.2">20</text>
<path d="M2233.4,974.6H2256.1" stroke="#2d5baa" stroke-width="1.9" fill="none"/>
<text x="2256.9" y="990" text-anchor="start" fill="#2d5baa" font-size="44.2">40</text>
<path d="M2233.4,1063.8H2256.1" stroke="#2d5baa" stroke-width="1.9" fill="none"/>
<text x="2256.9" y="1079.2" text-anchor="start" fill="#2d5baa" font-size="44.2">60</text>
<path d="M2233.4,1152.9H2256.1" stroke="#2d5baa" stroke-width="1.9" fill="none"/>
<text x="2256.9" y="1168.3" text-anchor="start" fill="#2d5baa" font-size="44.2">80</text>
<path d="M2233.4,1242H2256.1" stroke="#2d5baa" stroke-width="1.9" fill="none"/>
<text x="2256.9" y="1257.4" text-anchor="start" fill="#2d5baa" font-size="44.2">100</text>
<path d="M1703.8,770.9H1743" stroke="#141414" stroke-width="4.6" fill="none"/>
<path d="M1703.8,812.5H1743" stroke="#2d5baa" stroke-width="4.8" fill="none"/>
<text x="1759.5" y="780.7" text-anchor="start" fill="#1c1a1b" font-size="44.2">TG</text>
<text x="1759.5" y="826" text-anchor="start" fill="#1c1a1b" font-size="44.2">DSC</text>
<text x="1554" y="760.5" text-anchor="start" fill="#1c1a1b" font-size="44.2">(d)</text>
<text x="2048.9" y="820" text-anchor="start" fill="#1c1a1b" font-size="44.2">684.3</text>
<path d="M2204.5,1104.6V979.4" stroke="#e8332e" stroke-width="4.7" fill="none"/>
<path d="M2204.5,956.4L2198.75,980.4L2210.25,980.4Z" fill="#e8332e"/>
<text transform="translate(2187.08,1063.88) rotate(-90)" x="0 45.13" y="0" fill="#e8332e" font-size="43.5">放热</text>
<text transform="translate(1406.1,977.4) rotate(-90)" text-anchor="middle" fill="#1c1a1b" font-size="44.2">TG/mg</text>
<text transform="translate(2399.9,972.7) rotate(-90)" text-anchor="middle" fill="#1c1a1b" font-size="44.2">DSC/mW</text>
<text x="1792.6 1836.1" y="1366.93" fill="#1c1a1b" font-size="43.8">温度</text>
<text x="1882" y="1365.9" text-anchor="start" fill="#1c1a1b" font-size="46.5">/</text>
<circle cx="1905" cy="1339.6" r="5.65" fill="none" stroke="#1c1a1b" stroke-width="1.9"/>
<text transform="translate(1908.7,1365.75) scale(0.875,1.035)" x="0" y="0" fill="#1c1a1b" font-size="44.5">C</text>
</g>
</svg></body></html>
